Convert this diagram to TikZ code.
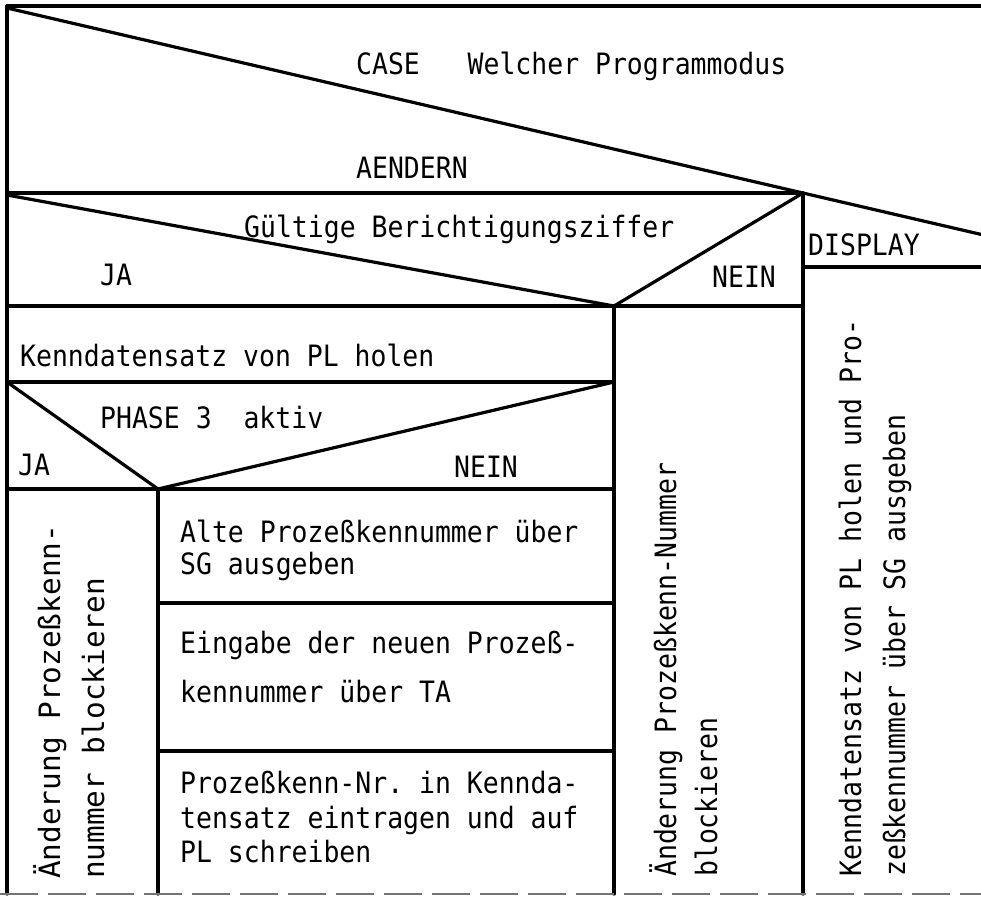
\documentclass[tikz,border=0pt]{standalone}
\usepackage{fontspec}
\setmonofont{DejaVu Sans Mono}[FakeStretch=0.9]
\newfontfamily\widemono{DejaVu Sans Mono}
\begin{document}
\tikzset{
  ln/.style={line width=3.2pt, line cap=round, line join=round},
  txt/.style={font=\ttfamily\fontsize{29.4}{32}\selectfont, inner sep=0pt, anchor=base west},
  vtxt/.style={txt, rotate=90},
  wvtxt/.style={vtxt, font=\widemono\fontsize{29.4}{32}\selectfont},
}
\begin{tikzpicture}[x=1pt,y=-1pt]
\useasboundingbox (0,0) rectangle (981,897);
% key points
\coordinate (tl) at (7,6);
\coordinate (tr) at (981,6);
\coordinate (bl) at (7,894);
\coordinate (dA) at (7,8);
\coordinate (dE) at (981,234.4);
\coordinate (r1l) at (7,193);
\coordinate (r1r) at (803,193);
\coordinate (c3b) at (803,894);
\coordinate (dispL) at (803,267);
\coordinate (dispR) at (981,267);
\coordinate (g0) at (7,195);
\coordinate (gv) at (614,306);
\coordinate (r2l) at (7,306);
\coordinate (r2r) at (803,306);
\coordinate (c2b) at (614,894);
\coordinate (r3l) at (7,382);
\coordinate (r3r) at (614,382);
\coordinate (pv) at (158,489);
\coordinate (r4l) at (7,489);
\coordinate (r4r) at (614,489);
\coordinate (c1b) at (158,894);
\coordinate (r5l) at (158,603);
\coordinate (r5r) at (614,603);
\coordinate (r6l) at (158,751);
\coordinate (r6r) at (614,751);
\coordinate (botl) at (0,894);
\coordinate (botr) at (981,894);

% frame and structure
\draw[ln] (tr) -- (tl) -- (bl);
\draw[ln] (dA) -- (dE);
\draw[ln] (r1l) -- (r1r);
\draw[ln] (r1r) -- (c3b);
\draw[ln] (dispL) -- (dispR);
\draw[ln] (g0) -- (gv) -- (r1r);
\draw[ln] (r2l) -- (r2r);
\draw[ln] (gv) -- (c2b);
\draw[ln] (r3l) -- (r3r);
\draw[ln] (r3l) -- (pv) -- (r3r);
\draw[ln] (r4l) -- (r4r);
\draw[ln] (pv) -- (c1b);
\draw[ln] (r5l) -- (r5r);
\draw[ln] (r6l) -- (r6r);
\draw[line width=2.2pt, black!55, dash pattern=on 38pt off 10pt] (botl) -- (botr);

% texts
\node[txt] (case) at (356,74) {CASE\ \ \ Welcher Programmodus};
\node[txt] (aend) at (356,178) {AENDERN};
\node[txt] (guelt) at (244,237) {Gültige Berichtigungsziffer};
\node[txt] (ja1) at (100,285) {JA};
\node[txt] (nein1) at (712,287) {NEIN};
\node[txt] (disp) at (808,255) {DISPLAY};
\node[txt] (kds) at (20,366) {Kenndatensatz von PL holen};
\node[txt] (phase) at (100,428) {PHASE 3\ \ aktiv};
\node[txt] (ja2) at (18,475) {JA};
\node[txt] (nein2) at (454,477) {NEIN};
\node[txt] (alt1) at (180,542) {Alte Prozeßkennummer über};
\node[txt] (alt2) at (180,574) {SG ausgeben};
\node[txt] (ein1) at (180,653) {Eingabe der neuen Prozeß-};
\node[txt] (ein2) at (180,702) {kennummer über TA};
\node[txt] (pro1) at (180,793) {Prozeßkenn-Nr. in Kennda-};
\node[txt] (pro2) at (180,828) {tensatz eintragen und auf};
\node[txt] (pro3) at (180,862) {PL schreiben};

\node[wvtxt] (v11) at (60,879) {Änderung Prozeßkenn-};
\node[wvtxt] (v12) at (104,879) {nummer blockieren};
\node[vtxt] (v21) at (676,877) {Änderung Prozeßkenn-Nummer};
\node[vtxt] (v22) at (717,877) {blockieren};
\node[vtxt] (v31) at (861,877) {Kenndatensatz von PL holen und Pro-};
\node[vtxt] (v32) at (905,877) {zeßkennummer über SG ausgeben};
\end{tikzpicture}
\end{document}
